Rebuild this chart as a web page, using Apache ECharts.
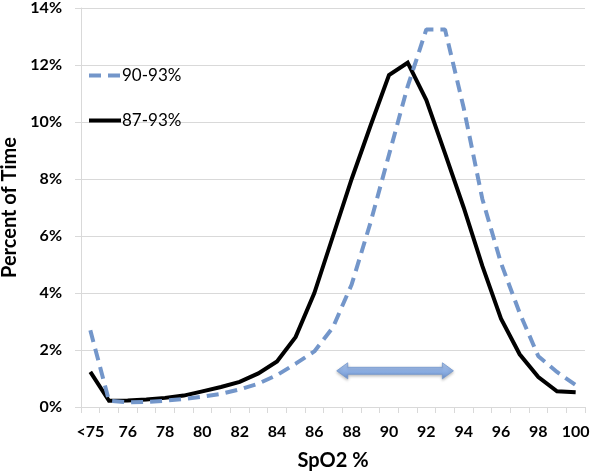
<!DOCTYPE html>
<html>
<head>
<meta charset="utf-8">
<script src="https://cdn.jsdelivr.net/npm/echarts@6/dist/echarts.min.js"></script>
<style>
  html, body { margin: 0; padding: 0; background: #fff; }
  #chart { width: 600px; height: 475px; }
</style>
</head>
<body>
<div id="chart"></div>
<script>
// SpO2 categories (first bucket is everything below 75)
var categories = ["<75", "75", "76", "77", "78", "79", "80", "81", "82", "83", "84", "85", "86",
  "87", "88", "89", "90", "91", "92", "93", "94", "95", "96", "97", "98", "99", "100"];

// percent of time
var target9093 = [2.69, 0.22, 0.16, 0.18, 0.22, 0.28, 0.36, 0.46, 0.62, 0.82, 1.12, 1.52, 1.95,
  2.8, 4.3, 6.45, 8.85, 11.25, 13.25, 13.25, 10.5, 7.3, 5.05, 3.3, 1.78, 1.23, 0.77];
var target8793 = [1.23, 0.22, 0.23, 0.26, 0.32, 0.4, 0.55, 0.7, 0.88, 1.18, 1.6, 2.46, 4.0,
  6.0, 8.0, 9.85, 11.65, 12.08, 10.77, 8.9, 7.0, 4.95, 3.1, 1.85, 1.05, 0.55, 0.52];

var seriesNames = ["90-93%", "87-93%"];

// double arrow annotation (SpO2 span and height in %)
var arrowFrom = 87.2;
var arrowTo = 93.45;
var arrowLevel = 1.27;

var FONT = "Lato, 'Open Sans', sans-serif";
var GRID_COLOR = "#d9d9d9";

var dom = document.getElementById("chart");
var chart = echarts.init(dom);

var option = {
  backgroundColor: "#fff",
  animation: false,
  textStyle: { fontFamily: FONT },
  grid: { left: 81, right: 15, top: 8, bottom: 68, outerBoundsMode: "none", containLabel: false },
  legend: {
    orient: "vertical",
    left: 82,
    top: 62,
    itemWidth: 32,
    itemHeight: 14,
    itemGap: 28,
    data: seriesNames,
    itemStyle: { opacity: 0 },
    lineStyle: { width: 4 },
    textStyle: { fontFamily: FONT, fontSize: 17, color: "#000", padding: [0, 0, 0, -4] },
  },
  xAxis: {
    type: "category",
    data: categories,
    boundaryGap: true,
    name: "SpO2 %",
    nameLocation: "middle",
    nameGap: 44,
    nameTextStyle: { fontFamily: FONT, fontSize: 20, fontWeight: "bold", color: "#000" },
    axisLine: { lineStyle: { color: GRID_COLOR, width: 1 } },
    axisTick: { show: true, interval: 0, length: 6, lineStyle: { color: GRID_COLOR } },
    axisLabel: {
      interval: 1,
      margin: 17,
      fontFamily: FONT,
      fontSize: 16,
      fontWeight: "bold",
      color: "#000",
    },
    splitLine: { show: false },
  },
  yAxis: {
    type: "value",
    min: 0,
    max: 14,
    interval: 2,
    name: "Percent of Time",
    nameLocation: "middle",
    nameGap: 56,
    nameTextStyle: { fontFamily: FONT, fontSize: 20, fontWeight: "bold", color: "#000" },
    axisLine: { show: true, lineStyle: { color: GRID_COLOR, width: 1 } },
    axisTick: { show: true, length: 6, lineStyle: { color: GRID_COLOR } },
    axisLabel: {
      formatter: "{value}%",
      margin: 19,
      fontFamily: FONT,
      fontSize: 16,
      fontWeight: "bold",
      color: "#000",
    },
    splitLine: { lineStyle: { color: GRID_COLOR, width: 1 } },
  },
  series: [
    {
      name: seriesNames[1],
      type: "line",
      data: target8793,
      symbol: "none",
      smooth: false,
      z: 2,
      lineStyle: { color: "#000", width: 4, join: "miter" },
      itemStyle: { color: "#000" },
    },
    {
      name: seriesNames[0],
      type: "line",
      data: target9093,
      symbol: "none",
      smooth: false,
      z: 3,
      lineStyle: { color: "#7396ca", width: 4, type: [12, 7] },
      itemStyle: { color: "#7396ca" },
    },
  ],
};

option && chart.setOption(option);

// arrow drawn in data space: interpolate category positions
function spo2ToX(v) {
  var a = chart.convertToPixel({ gridIndex: 0 }, [0, 0]);
  var b = chart.convertToPixel({ gridIndex: 0 }, [categories.length - 1, 0]);
  var idx = v - 74;
  return a[0] + (b[0] - a[0]) * idx / (categories.length - 1);
}
var x0 = spo2ToX(arrowFrom);
var x1 = spo2ToX(arrowTo);
var yc = chart.convertToPixel({ gridIndex: 0 }, [0, arrowLevel])[1];
var hl = 11, hh = 8, sw = 3.5;
chart.setOption({
  graphic: [
    {
      type: "polygon",
      z: 10,
      shape: {
        points: [
          [x0, yc], [x0 + hl, yc - hh], [x0 + hl, yc - sw], [x1 - hl, yc - sw], [x1 - hl, yc - hh],
          [x1, yc], [x1 - hl, yc + hh], [x1 - hl, yc + sw], [x0 + hl, yc + sw], [x0 + hl, yc + hh],
        ],
      },
      style: {
        fill: new echarts.graphic.LinearGradient(0, 0, 0, 1, [
          { offset: 0, color: "#b4cbef" },
          { offset: 0.5, color: "#8eb0e4" },
          { offset: 1, color: "#6f93cd" },
        ]),
        stroke: "#7195cd",
        lineWidth: 0.8,
        shadowBlur: 3,
        shadowColor: "rgba(0,0,0,0.25)",
        shadowOffsetY: 1.5,
      },
    },
  ],
});
</script>
</body>
</html>
